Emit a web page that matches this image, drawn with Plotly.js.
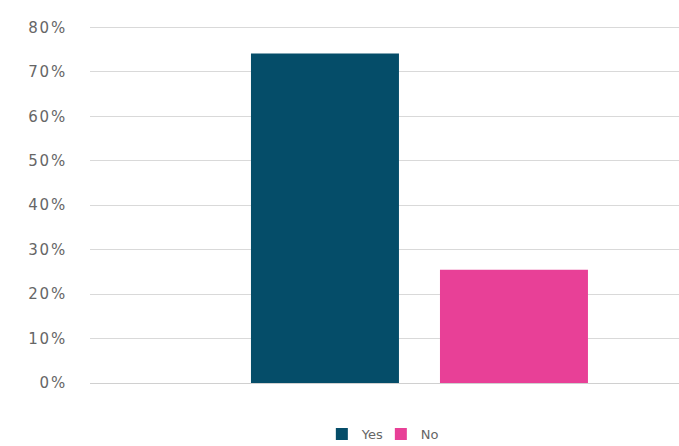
<!DOCTYPE html>
<html>
<head>
<meta charset="utf-8">
<script src="https://cdn.plot.ly/plotly-3.0.1.min.js"></script>
<style>
html,body{margin:0;padding:0;background:#fff;}
#chart{width:679px;height:446px;}
.ytick text{letter-spacing:1.8px;}
</style>
</head>
<body>
<div id="chart"></div>
<script>
var category = ["Response"];
var seriesNames = ["Yes", "No"];
var yesValues = [0.741];
var noValues = [0.255];
var seriesColors = ["#054d69", "#e84097"];
var yTickVals = [0, 0.1, 0.2, 0.3, 0.4, 0.5, 0.6, 0.7, 0.8];
var yTickText = ["0%", "10%", "20%", "30%", "40%", "50%", "60%", "70%", "80%"];

var traces = [
  {type: "bar", name: seriesNames[0], x: category, y: yesValues,
   marker: {color: seriesColors[0]}, hoverinfo: "none"},
  {type: "bar", name: seriesNames[1], x: category, y: noValues,
   marker: {color: seriesColors[1]}, hoverinfo: "none"}
];

var layout = {
  width: 679, height: 446,
  margin: {l: 90, r: 0, t: 26, b: 63, pad: 0, autoexpand: false},
  paper_bgcolor: "#ffffff", plot_bgcolor: "#ffffff",
  font: {family: "DejaVu Sans", size: 13, color: "#666666"},
  barmode: "group",
  bargap: 0.5,
  bargroupgap: 0.217,
  showlegend: true,
  legend: {orientation: "h", xref: "container", yref: "container",
           x: 0.474, xanchor: "left", y: 0.027, yanchor: "middle",
           font: {family: "DejaVu Sans", size: 13, color: "#666666"},
           entrywidthmode: "pixels", entrywidth: 14, traceorder: "normal"},
  xaxis: {type: "category", range: [-0.4358, 0.3433], showticklabels: false,
          showgrid: false, zeroline: false, showline: false, fixedrange: true},
  yaxis: {range: [0, 0.803], tickvals: yTickVals, ticktext: yTickText,
          showgrid: true, gridcolor: "#d9d9d9", gridwidth: 1,
          zeroline: true, zerolinecolor: "#d0d0d0", zerolinewidth: 1,
          showline: false, ticks: "", ticklabelstandoff: 22,
          tickfont: {family: "DejaVu Sans", size: 15, color: "#666666"}}
};

Plotly.newPlot("chart", traces, layout, {staticPlot: true, displayModeBar: false});
</script>
</body>
</html>
